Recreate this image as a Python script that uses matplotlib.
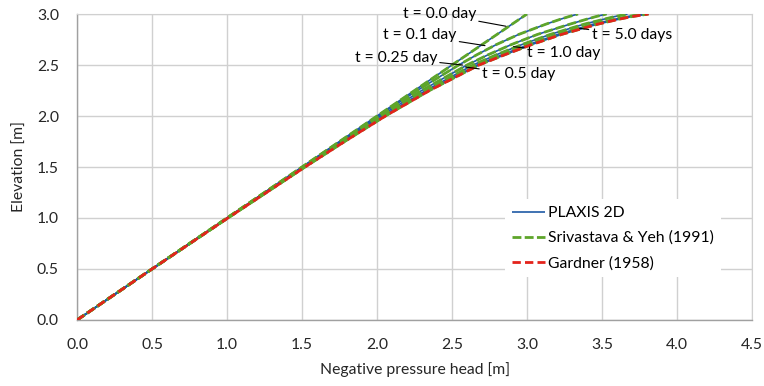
import matplotlib
matplotlib.use("Agg")
import matplotlib.pyplot as plt

plt.rcParams['font.family'] = ['Lato', 'DejaVu Sans']

# ---------------------------------------------------------------------------
# Data (elevation [m] vs negative pressure head [m])
# ---------------------------------------------------------------------------
elev = [0.0, 0.5, 1.0, 1.5, 1.75, 2.0, 2.25, 2.5, 2.6, 2.7, 2.8, 2.9, 2.95, 2.975, 3.0]

head_t00 = [0.0, 0.5, 1.0, 1.5, 1.75, 2.0, 2.25, 2.5, 2.6, 2.7, 2.8, 2.9, 2.95, 2.975, 3.0]
head_t01 = [0.0, 0.5, 1.0, 1.502, 1.754, 2.008, 2.268, 2.545, 2.665, 2.795, 2.945, 3.125, 3.225, 3.28, 3.34]
head_t025 = [0.0, 0.5, 1.001, 1.506, 1.762, 2.023, 2.298, 2.60, 2.74, 2.895, 3.07, 3.285, 3.40, 3.46, 3.53]
head_t05 = [0.0, 0.5, 1.003, 1.513, 1.773, 2.04, 2.325, 2.64, 2.795, 2.965, 3.155, 3.38, 3.515, 3.585, 3.67]
head_t10 = [0.0, 0.5, 1.005, 1.518, 1.781, 2.051, 2.342, 2.668, 2.832, 3.01, 3.205, 3.44, 3.59, 3.67, 3.77]
head_t50 = [0.0, 0.5, 1.006, 1.52, 1.784, 2.056, 2.35, 2.68, 2.85, 3.03, 3.23, 3.47, 3.615, 3.70, 3.81]

# Gardner (1958) steady state
head_gardner = [0.0, 0.5, 1.006, 1.52, 1.784, 2.056, 2.35, 2.68, 2.85, 3.03, 3.23, 3.47, 3.615, 3.70, 3.81]

transient = [head_t00, head_t01, head_t025, head_t05, head_t10, head_t50]

# label text, text position, leader end (data coords)
labels = ["t = 0.0 day", "t = 0.1 day", "t = 0.25 day",
          "t = 0.5 day", "t = 1.0 day", "t = 5.0 days"]
label_xy = [(2.66, 3.00), (2.53, 2.79), (2.40, 2.57),
            (2.70, 2.41), (3.00, 2.62), (3.43, 2.79)]
leader_xy = [(2.86, 2.88), (2.72, 2.69), (2.57, 2.50),
             (2.59, 2.48), (2.91, 2.68), (3.35, 2.86)]
label_ha = ["right", "right", "right", "left", "left", "left"]

c_plaxis = "#1F5AA6"
c_sy = "#5EA52A"
c_gardner = "#E3231B"
fs = 11.3

fig = plt.figure(figsize=(7.64, 3.86), dpi=100)
ax = fig.add_axes([0.1008, 0.171, 0.8835, 0.7927])

for i, h in enumerate(transient):
    ax.plot(h, elev, color=c_plaxis, lw=1.2, solid_capstyle="butt",
            label="PLAXIS 2D" if i == 0 else None, zorder=3)
    ax.plot(h, elev, color=c_sy, lw=2.0, dashes=(3.2, 1.2),
            label="Srivastava & Yeh (1991)" if i == 0 else None, zorder=4)
ax.plot(head_gardner, elev, color=c_gardner, lw=2.0, dashes=(3.0, 1.5),
        label="Gardner (1958)", zorder=5)

for txt, xy, end, ha in zip(labels, label_xy, leader_xy, label_ha):
    ax.annotate(txt, xy=end, xytext=xy, ha=ha, va="center", fontsize=fs,
                arrowprops=dict(arrowstyle="-", color="black", lw=0.8,
                                shrinkA=0, shrinkB=0),
                annotation_clip=False, zorder=6)

ax.set_xlim(0, 4.5)
ax.set_ylim(0, 3.0)
ax.set_xticks([0.0, 0.5, 1.0, 1.5, 2.0, 2.5, 3.0, 3.5, 4.0, 4.5])
ax.set_yticks([0.0, 0.5, 1.0, 1.5, 2.0, 2.5, 3.0])
ax.xaxis.set_major_formatter(matplotlib.ticker.FormatStrFormatter("%.1f"))
ax.yaxis.set_major_formatter(matplotlib.ticker.FormatStrFormatter("%.1f"))
ax.tick_params(axis="x", length=0, labelsize=fs, pad=13, colors="#262626")
ax.tick_params(axis="y", length=0, labelsize=fs, pad=13, colors="#262626")
ax.grid(True, color="#D0D0D0", lw=1.0)
ax.set_axisbelow(True)
for s in ["top", "right"]:
    ax.spines[s].set_color("#D0D0D0")
for s in ["left", "bottom"]:
    ax.spines[s].set_color("#A0A0A0")
    ax.spines[s].set_linewidth(1.0)

ax.set_xlabel("Negative pressure head [m]", fontsize=fs, labelpad=7, color="#262626")
ax.set_ylabel("Elevation [m]", fontsize=fs, labelpad=7, color="#262626")

leg = ax.legend(loc="upper left", bbox_to_anchor=(0.634, 0.395), frameon=True,
                fontsize=fs, handlelength=2.1, handletextpad=0.2,
                labelspacing=0.68, borderaxespad=0, borderpad=0.45,
                fancybox=False)
leg.get_frame().set_facecolor("white")
leg.get_frame().set_edgecolor("none")
leg.get_frame().set_alpha(1.0)
leg.set_zorder(7)

fig.savefig("out.png", dpi=100)
